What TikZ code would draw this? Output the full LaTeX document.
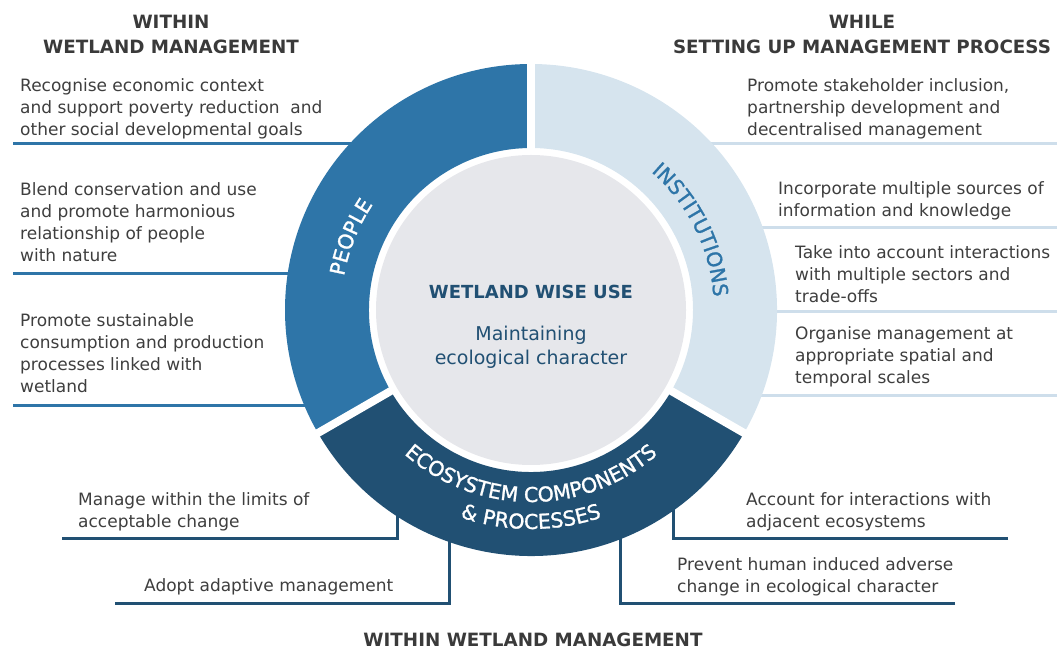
\documentclass[tikz,border=0pt]{standalone}
\usepackage{fontspec}
\setmainfont{DejaVu Sans}
\newfontfamily\ringface[FakeBold=1.2]{DejaVu Sans}
\usetikzlibrary{decorations.text}

\definecolor{peopleblue}{RGB}{46,117,168}
\definecolor{instblue}{RGB}{214,228,238}
\definecolor{instedge}{RGB}{206,222,235}
\definecolor{ecoblue}{RGB}{33,80,115}
\definecolor{coregray}{RGB}{230,231,235}
\definecolor{headgray}{RGB}{58,58,58}
\definecolor{bodygray}{RGB}{62,62,62}

\newcommand{\ringfont}{\ringface\fontsize{20.5}{20.5}\selectfont}

\begin{document}
\begin{tikzpicture}[x=1pt,y=1pt,line join=miter,
    head/.style={font=\fontsize{18.3}{25}\selectfont\bfseries,text=headgray,align=center,inner sep=0,anchor=north},
    item/.style={font=\fontsize{17}{22}\selectfont,text=bodygray,align=left,inner sep=0,anchor=north west},
    people line/.style={draw=peopleblue,line width=3},
    inst line/.style={draw=instedge,line width=3},
    eco line/.style={draw=ecoblue,line width=3},
    ring gap/.style={draw=white,line width=8},
    ring label/.style={decorate,decoration={text along path,text align=center,text={#1}}}]

    \useasboundingbox (0,0) rectangle (1059,651);

    \node[head] (hleft) at (171,636) {WITHIN\\WETLAND MANAGEMENT};
    \node[head] (hright) at (862,636) {WHILE\\SETTING UP MANAGEMENT PROCESS};
    \node[head] (hbottom) at (533,18) {WITHIN WETLAND MANAGEMENT};

    % underlines first, the ring hides their inner ends
    \coordinate (p1a) at (13,507);   \coordinate (p1b) at (420,507);
    \coordinate (p2a) at (13,377);   \coordinate (p2b) at (320,377);
    \coordinate (p3a) at (13,246);   \coordinate (p3b) at (340,246);
    \coordinate (i1a) at (1057,507); \coordinate (i1b) at (650,507);
    \coordinate (i2a) at (1057,423); \coordinate (i2b) at (720,423);
    \coordinate (i3a) at (1057,339); \coordinate (i3b) at (730,339);
    \coordinate (i4a) at (1057,256); \coordinate (i4b) at (720,256);
    \coordinate (e1a) at (62,113);   \coordinate (e1b) at (397,171);
    \coordinate (e2a) at (115,48);   \coordinate (e2b) at (449,131);
    \coordinate (e3a) at (1008,113); \coordinate (e3b) at (673,151);
    \coordinate (e4a) at (955,48);   \coordinate (e4b) at (620,131);

    \draw[people line] (p1a) -- (p1b);
    \draw[people line] (p2a) -- (p2b);
    \draw[people line] (p3a) -- (p3b);
    \draw[inst line] (i1a) -- (i1b);
    \draw[inst line] (i2a) -- (i2b);
    \draw[inst line] (i3a) -- (i3b);
    \draw[inst line] (i4a) -- (i4b);
    \draw[eco line] (e1a) -| (e1b);
    \draw[eco line] (e2a) -| (e2b);
    \draw[eco line] (e3a) -| (e3b);
    \draw[eco line] (e4a) -| (e4b);

    \node[item] (p1) at (20,573) {Recognise economic context\\and support poverty reduction\ \ and\\other social developmental goals};
    \node[item] (p2) at (20,469) {Blend conservation and use\\and promote harmonious\\relationship of people\\with nature};
    \node[item] (p3) at (20,338) {Promote sustainable\\consumption and production\\processes linked with\\wetland};
    \node[item] (i1) at (747,573) {Promote stakeholder inclusion,\\partnership development and\\decentralised management};
    \node[item] (i2) at (778,470) {Incorporate multiple sources of\\information and knowledge};
    \node[item] (i3) at (795,406) {Take into account interactions\\with multiple sectors and\\trade-offs};
    \node[item] (i4) at (795,325) {Organise management at\\appropriate spatial and\\temporal scales};
    \node[item] (e1) at (78,159) {Manage within the limits of\\acceptable change};
    \node[item] (e2) at (144,73) {Adopt adaptive management};
    \node[item] (e3) at (746,159) {Account for interactions with\\adjacent ecosystems};
    \node[item] (e4) at (677,94) {Prevent human induced adverse\\change in ecological character};

    % the ring and its core
    \coordinate (C) at (531,341);
    \begin{scope}[shift={(C)}]
      \fill[peopleblue] (90:246) arc[start angle=90,end angle=210,radius=246] -- (210:162) arc[start angle=210,end angle=90,radius=162] -- cycle;
      \fill[instblue] (-30:246) arc[start angle=-30,end angle=90,radius=246] -- (90:162) arc[start angle=90,end angle=-30,radius=162] -- cycle;
      \fill[ecoblue] (210:246) arc[start angle=210,end angle=330,radius=246] -- (330:162) arc[start angle=330,end angle=210,radius=162] -- cycle;
      \draw[ring gap] (90:150) -- (90:252);
      \draw[ring gap] (210:150) -- (210:252);
      \draw[ring gap] (330:150) -- (330:252);
      \fill[coregray] (0,0) circle[radius=155];

      \path[ring label={|\ringfont\color{white}|PEOPLE}] (188:190) arc[start angle=188,end angle=128,radius=190];
      \path[ring label={|\ringfont\color{peopleblue}|INSTITUTIONS}] (57:183) arc[start angle=57,end angle=-4,radius=183];
      \path[ring label={|\ringfont\color{white}|ECOSYSTEM COMPONENTS}] (219:192) arc[start angle=219,end angle=321,radius=192];
      \path[ring label={|\ringfont\color{white}|{\&} PROCESSES}] (235:219) arc[start angle=235,end angle=305,radius=219];
    \end{scope}

    \node[font=\fontsize{18}{22}\selectfont\bfseries,text=ecoblue] (wiseuse) at (531,359) {WETLAND WISE USE};
    \node[font=\fontsize{19}{24}\selectfont,text=ecoblue,align=center,inner sep=0,anchor=north] (character) at (531,325.5) {Maintaining\\ecological character};
\end{tikzpicture}
\end{document}
